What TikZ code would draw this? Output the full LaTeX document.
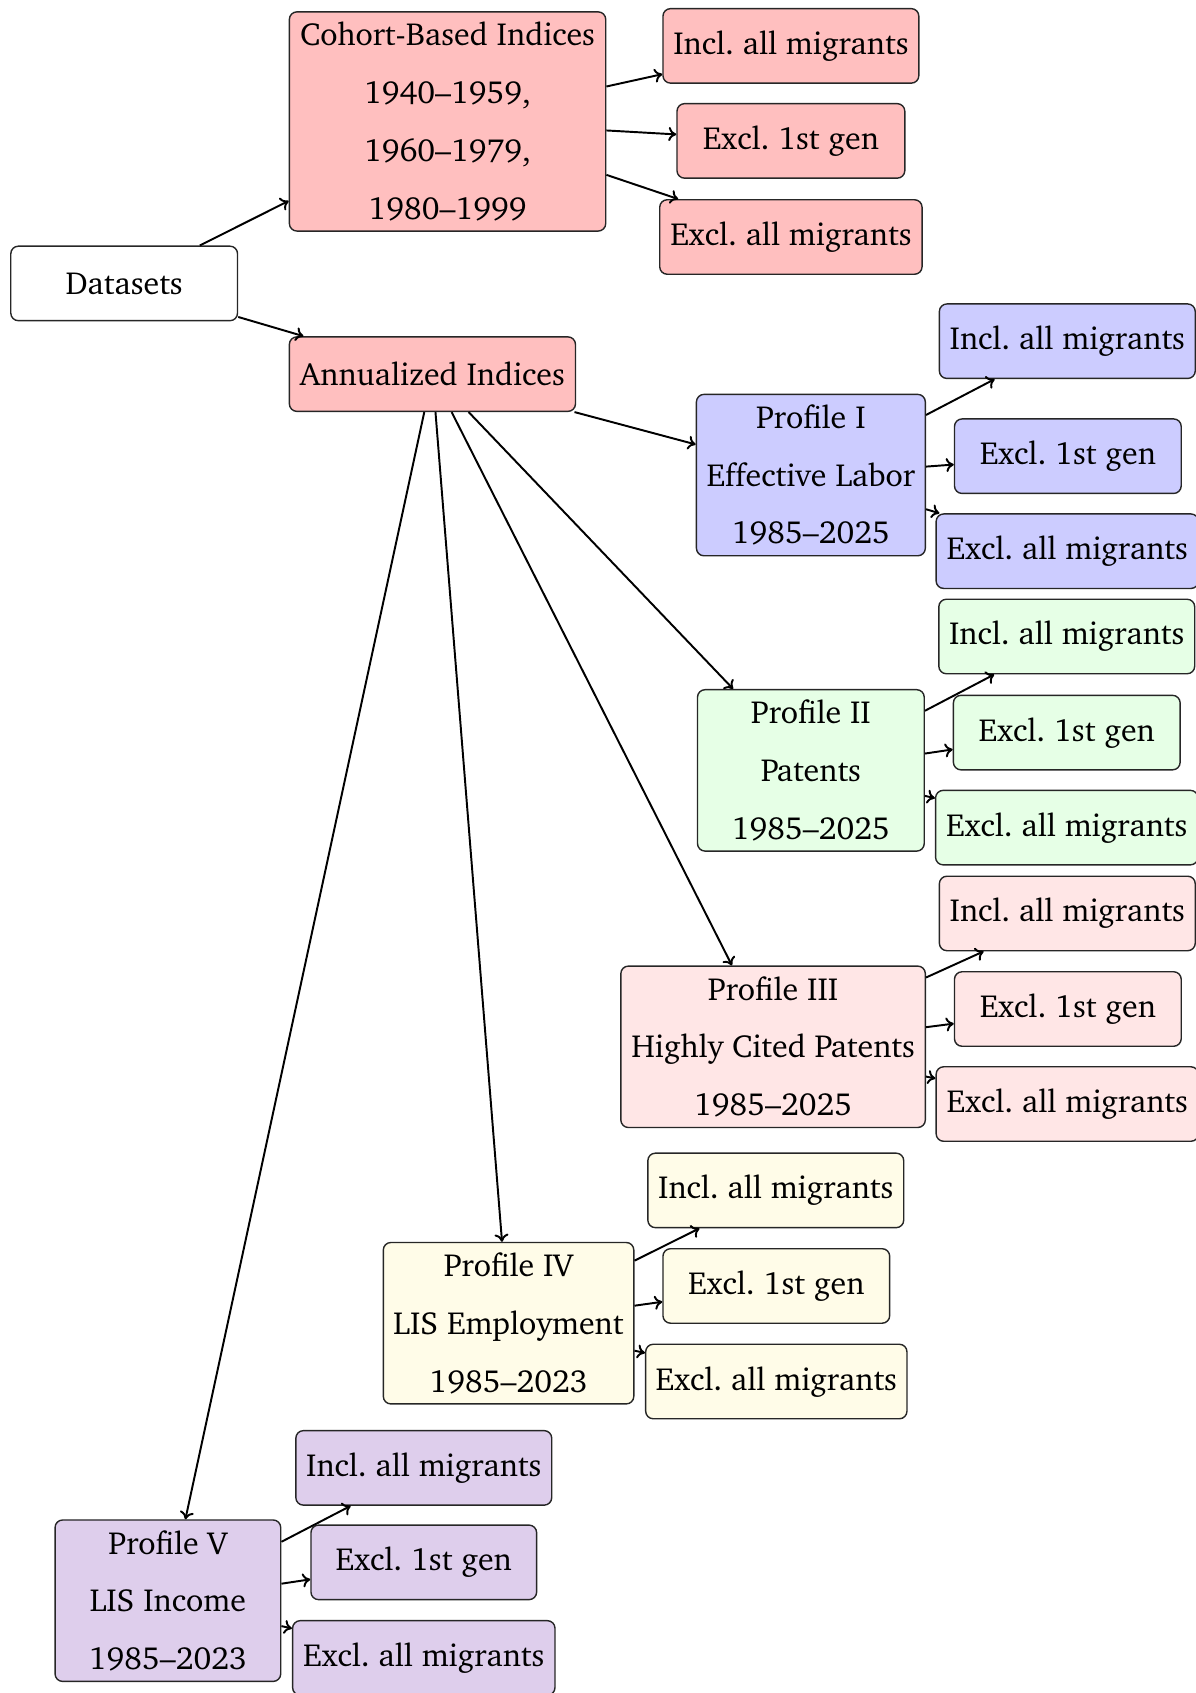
\documentclass[tikz,border=0pt]{standalone}
\usepackage[T1]{fontenc}
\usepackage{charter}
\usetikzlibrary{arrows.meta}
\definecolor{cohortpink}{RGB}{255,191,191}
\definecolor{profAblue}{RGB}{204,204,255}
\definecolor{profBgreen}{RGB}{230,255,230}
\definecolor{profCpink}{RGB}{255,230,230}
\definecolor{profDyellow}{RGB}{255,252,232}
\definecolor{profEviolet}{RGB}{222,206,236}
\begin{document}
\frenchspacing
\begin{tikzpicture}[x=0.5pt,y=-0.5pt,
  box/.style={draw=black!85, line width=0.65pt, rounded corners=3.5pt, align=center,
    inner xsep=3pt, inner ysep=2pt, font=\fontsize{14.8}{26.75}\selectfont,
    minimum height=34.5pt},
  tallbox/.style={box, minimum height=74.75pt},
  conn/.style={-{To[length=3.6pt,width=6.5pt]}, line width=0.9pt},
]
\useasboundingbox (0,0) rectangle (1107,1568);

% root
\node[box, fill=white, minimum width=105pt] (ds) at (115,262.5) {Datasets};

% cohort branch
\node[box, fill=cohortpink, minimum width=146.5pt, minimum height=101.5pt] (coh) at (414.5,112.5)
  {Cohort-Based Indices\\1940--1959,\\1960--1979,\\1980--1999};
\node[box, fill=cohortpink, minimum width=118.5pt] (ca) at (732.5,42.5) {Incl. all migrants};
\node[box, fill=cohortpink, minimum width=105.5pt] (cb) at (732.5,130.5) {Excl. 1st gen};
\node[box, fill=cohortpink, minimum width=121.5pt] (cc) at (732.5,219.5) {Excl. all migrants};

% annualized
\node[box, fill=cohortpink, minimum width=132.5pt] (ann) at (400.5,346.5) {Annualized Indices};

% Profile I
\node[tallbox, fill=profAblue, minimum width=106pt] (p1) at (751,440) {Profile I\\Effective Labor\\1985--2025};
\node[box, fill=profAblue, minimum width=118.5pt] (p1a) at (988.5,316) {Incl. all migrants};
\node[box, fill=profAblue, minimum width=105pt] (p1b) at (989,422.5) {Excl. 1st gen};
\node[box, fill=profAblue, minimum width=121.5pt] (p1c) at (988.5,510.5) {Excl. all migrants};

% Profile II
\node[tallbox, fill=profBgreen, minimum width=105pt] (p2) at (751,713.5) {Profile II\\Patents\\1985--2025};
\node[box, fill=profBgreen, minimum width=118.5pt] (p2a) at (988,589.5) {Incl. all migrants};
\node[box, fill=profBgreen, minimum width=105pt] (p2b) at (988,678.5) {Excl. 1st gen};
\node[box, fill=profBgreen, minimum width=121.5pt] (p2c) at (988,766.5) {Excl. all migrants};

% Profile III
\node[tallbox, fill=profCpink, minimum width=141pt] (p3) at (716,969.5) {Profile III\\Highly Cited Patents\\1985--2025};
\node[box, fill=profCpink, minimum width=118.5pt] (p3a) at (988.5,846) {Incl. all migrants};
\node[box, fill=profCpink, minimum width=105pt] (p3b) at (989,934.5) {Excl. 1st gen};
\node[box, fill=profCpink, minimum width=121.5pt] (p3c) at (988.5,1022.5) {Excl. all migrants};

% Profile IV
\node[tallbox, fill=profDyellow, minimum width=116pt] (p4) at (471,1225.5) {Profile IV\\LIS Employment\\1985--2023};
\node[box, fill=profDyellow, minimum width=118.5pt] (p4a) at (718.5,1102.5) {Incl. all migrants};
\node[box, fill=profDyellow, minimum width=105pt] (p4b) at (719,1191) {Excl. 1st gen};
\node[box, fill=profDyellow, minimum width=121pt] (p4c) at (719,1279.5) {Excl. all migrants};

% Profile V
\node[tallbox, fill=profEviolet, minimum width=104.5pt] (p5) at (155.5,1482.5) {Profile V\\LIS Income\\1985--2023};
\node[box, fill=profEviolet, minimum width=118.5pt] (p5a) at (392.5,1359.5) {Incl. all migrants};
\node[box, fill=profEviolet, minimum width=104.5pt] (p5b) at (392.5,1447) {Excl. 1st gen};
\node[box, fill=profEviolet, minimum width=121.5pt] (p5c) at (392.5,1535.5) {Excl. all migrants};

% connectors
\draw[conn] (ds) -- (coh);
\draw[conn] (ds) -- (ann);
\foreach \c in {ca,cb,cc} \draw[conn] (coh) -- (\c);
\foreach \p in {p1,p2,p3,p4,p5} {
  \draw[conn] (ann) -- (\p);
  \foreach \s in {a,b,c} \draw[conn] (\p) -- (\p\s);
}
\end{tikzpicture}
\end{document}
